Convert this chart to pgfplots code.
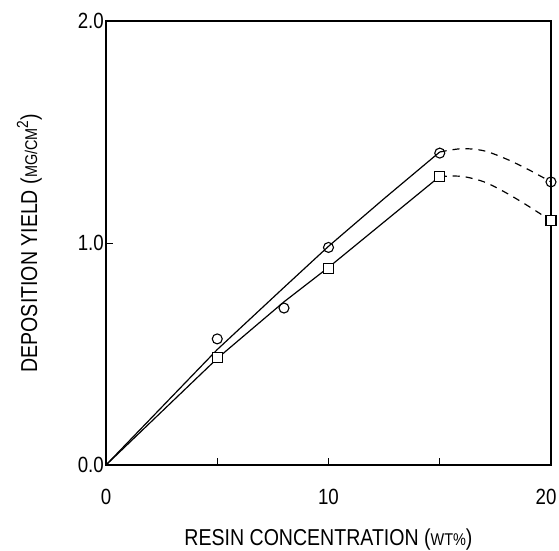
\documentclass[border=0pt]{standalone}
\usepackage{fontspec}
\setmainfont{Liberation Sans}[FakeStretch=0.85]
\usepackage{pgfplots}
\pgfplotsset{compat=1.18}

\begin{document}
\begin{tikzpicture}
\begin{axis}[
  scale only axis,
  width=445bp, height=444bp,
  xmin=0, xmax=20, ymin=0, ymax=2,
  axis line style={line width=1.3pt},
  tick style={black, line width=1pt},
  major tick length=7bp,
  tick align=inside,
  xtick={0,5,10,15,20}, xticklabels={0,,10,,\hspace*{-10bp}20},
  ytick={0,1,2}, yticklabels={0.0,1.0,2.0},
  xtick pos=bottom, ytick pos=left,
  /pgf/number format/assume math mode=true,
  every tick label/.append style={font=\fontsize{22bp}{26bp}\selectfont, inner sep=1bp},
  xticklabel style={anchor=center, yshift=-32bp},
  yticklabel style={anchor=east, xshift=-1bp},
  xlabel={RESIN CONCENTRATION ({\fontsize{17bp}{20bp}\selectfont WT\%})},
  ylabel={DEPOSITION YIELD ({\fontsize{17bp}{20bp}\selectfont MG/CM}\textsuperscript{2})},
  label style={font=\fontsize{23bp}{27bp}\selectfont},
  xlabel style={at={(axis description cs:0.5,-0.168)}, anchor=center},
  ylabel style={at={(axis description cs:-0.172,0.5)}, anchor=center},
  clip=false,
]
  % fitted curves
  \addplot[black, line width=1.2pt] coordinates {
    (0,0) (5,0.52) (8,0.80) (10,0.985) (12.5,1.20) (15,1.41)};
  \addplot[black, line width=1.2pt] coordinates {
    (0,0) (5,0.48) (8,0.735) (10,0.89) (12.5,1.095) (15,1.30)};
  % extrapolated (dashed)
  \addplot[black, line width=1.2pt, dash pattern=on 7bp off 6bp, smooth] coordinates {
    (15,1.41) (16,1.425) (17,1.415) (18,1.378) (19,1.33) (20,1.275)};
  \addplot[black, line width=1.2pt, dash pattern=on 7bp off 6bp, smooth] coordinates {
    (15,1.30) (16,1.30) (17,1.275) (18,1.225) (19,1.165) (20,1.10)};
  % data
  \addplot[only marks, mark=o, mark size=5bp, mark options={line width=1.1pt, fill=white}] coordinates {
    (5,0.568) (8,0.707) (10,0.98) (15,1.405) (20,1.275)};
  \addplot[only marks, mark=square*, mark size=5bp, mark options={draw=black, fill=white, line width=1.1pt}] coordinates {
    (5,0.486) (10,0.887) (15,1.30) (20,1.10)};
  \coordinate (sw) at (rel axis cs:0,0);
  \coordinate (ne) at (rel axis cs:1,1);
\end{axis}
\pgfresetboundingbox
\path ([xshift=-106bp,yshift=-86bp]sw) rectangle ([xshift=8bp,yshift=21bp]ne);
\end{tikzpicture}
\end{document}
